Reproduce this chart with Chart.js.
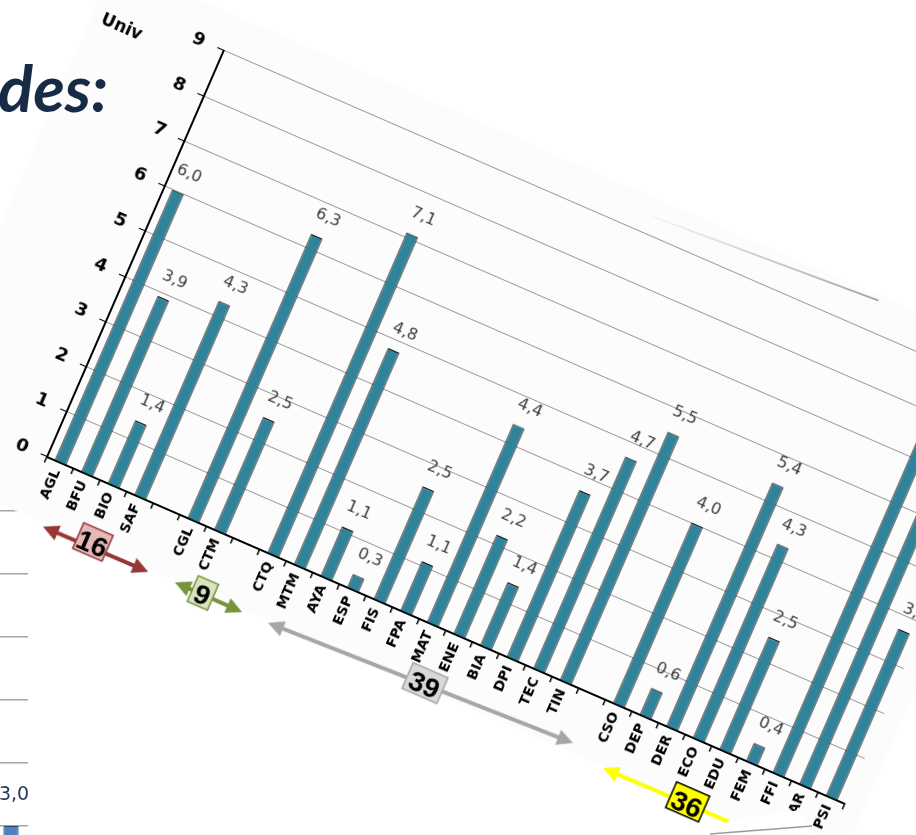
<!DOCTYPE html>
<html>
<head>
<meta charset="utf-8">
<script src="https://cdn.jsdelivr.net/npm/chart.js@4.4.1/dist/chart.umd.min.js"></script>
<style>
  html, body { margin: 0; padding: 0; background: #fff; overflow: hidden; }
  body { width: 916px; height: 835px; position: relative; }
  canvas { position: absolute; left: 0; top: 0; }
  #overlay { position: absolute; left: 0; top: 0; }
</style>
</head>
<body>
<canvas id="side" width="40" height="524"></canvas>
<canvas id="univ" width="1080" height="603"></canvas>
<svg id="overlay" width="916" height="835">
  <polygon points="730,820 800,810 815,835 710,835" fill="#fff"/>
  <line x1="710" y1="834" x2="812" y2="826" stroke="#9a9a9a" stroke-width="1.5"/>
  <text x="108" y="112" text-anchor="end" font-family="Lato" font-style="italic" font-weight="bold" font-size="65" fill="#172a46">des:</text>
</svg>
<script>
// categories and values of the main chart
const categories = ["AGL", "BFU", "BIO", "SAF", "", "CGL", "CTM", "", "CTQ", "MTM", "AYA", "ESP", "FIS", "FPA",
  "MAT", "ENE", "BIA", "DPI", "TEC", "TIN", "", "CSO", "DEP", "DER", "ECO", "EDU", "FEM", "FFI", "HAR", "PSI"];
const univValues = [6.0, 3.9, 1.4, 4.3, null, 6.3, 2.5, null, 7.1, 4.8, 1.1, 0.3, 2.5, 1.1,
  4.4, 2.2, 1.4, 3.7, 4.7, 5.5, null, 4.0, 0.6, 5.4, 4.3, 2.5, 0.4, 8.2, 6.9, 3.7];
const yTicks = [0, 1, 2, 3, 4, 5, 6, 7, 8, 9];

// groups marked under the axis and the count shown in each box
const groupCounts = [16, 9, 39, 36];

// chart behind, only its edge shows
const sideLabels = [""];
const sideValues = [3.0];

const fmt = v => v.toFixed(1).replace(".", ",");

// look of the group arrows (positions in category units / px below the axis)
const groupStyle = [
  { from: 0.33, to: 4.28, n1: 65.5, n2: 65, line: "#953735", fill: "#e6b9b8", edge: "#953735", box: 2.12, boxN: 59.6, w: 32 },
  { from: 5.27, to: 7.8, n1: 64, n2: 64.4, line: "#77933c", fill: "#d7e4bd", edge: "#77933c", box: 6.3, boxN: 62.5, w: 22 },
  { from: 8.77, to: 20.07, n1: 64, n2: 52.6, line: "#a6a6a6", fill: "#d9d9d9", edge: "#a6a6a6", box: 14.56, boxN: 56.6, w: 38 },
  { from: 21.36, to: 29.8, n1: 63.5, n2: 62, line: "#ffff00", fill: "#ffff00", edge: "#000", box: 24.5, boxN: 60.8, w: 36 }
];

function arrowHead(ctx, x, y, ang) {
  ctx.save();
  ctx.translate(x, y);
  ctx.rotate(ang);
  ctx.beginPath();
  ctx.moveTo(0, 0);
  ctx.lineTo(-16, -8);
  ctx.lineTo(-16, 8);
  ctx.closePath();
  ctx.fill();
  ctx.restore();
}

const frame = {
  id: "frame",
  beforeDraw(chart) {
    const { ctx, chartArea: a } = chart;
    ctx.save();
    ctx.fillStyle = "#fcfcfc";
    ctx.fillRect(a.left - 135, a.bottom - 480, 135 + 889, 480 + 62);
    // faint line near the top
    const g = ctx.createLinearGradient(a.left + 441, 0, a.left + 700, 0);
    g.addColorStop(0, "rgba(140,140,140,0)");
    g.addColorStop(1, "rgba(140,140,140,1)");
    ctx.strokeStyle = g;
    ctx.lineWidth = 1.5;
    ctx.beginPath();
    ctx.moveTo(a.left + 441, a.bottom - 461);
    ctx.lineTo(a.left + 700, a.bottom - 475);
    ctx.stroke();
    ctx.fillStyle = "#000";
    ctx.font = "bold 17px 'DejaVu Sans'";
    ctx.textAlign = "center";
    ctx.textBaseline = "middle";
    ctx.fillText("Univ", a.left - 103, a.bottom - 423);
    ctx.restore();
  },
  afterDatasetsDraw(chart) {
    const ctx = chart.ctx;
    const meta = chart.getDatasetMeta(0);
    ctx.save();
    ctx.font = "16px 'DejaVu Sans'";
    ctx.fillStyle = "#3c3c3c";
    ctx.textAlign = "center";
    ctx.textBaseline = "middle";
    meta.data.forEach((bar, i) => {
      const v = univValues[i];
      if (v == null) return;
      ctx.fillText(fmt(v), bar.x + 3, bar.y - 21);
    });
    ctx.restore();
  },
  afterDraw(chart) {
    const { ctx, chartArea: a } = chart;
    const xs = chart.scales.x;
    groupCounts.forEach((count, i) => {
      const s = groupStyle[i];
      const x1 = xs.getPixelForValue(s.from), x2 = xs.getPixelForValue(s.to);
      const y1 = a.bottom + s.n1, y2 = a.bottom + s.n2;
      const ang = Math.atan2(y2 - y1, x2 - x1);
      ctx.save();
      ctx.strokeStyle = s.line;
      ctx.fillStyle = s.line;
      ctx.lineWidth = 4;
      ctx.beginPath();
      ctx.moveTo(x1 + 12 * Math.cos(ang), y1 + 12 * Math.sin(ang));
      ctx.lineTo(x2 - 12 * Math.cos(ang), y2 - 12 * Math.sin(ang));
      ctx.stroke();
      arrowHead(ctx, x1, y1, ang + Math.PI);
      arrowHead(ctx, x2, y2, ang);
      const bx = xs.getPixelForValue(s.box), by = a.bottom + s.boxN;
      ctx.fillStyle = s.fill;
      ctx.strokeStyle = s.edge;
      ctx.lineWidth = 1.5;
      ctx.fillRect(bx - s.w / 2, by - 14, s.w, 28);
      ctx.strokeRect(bx - s.w / 2, by - 14, s.w, 28);
      ctx.fillStyle = "#000";
      ctx.font = "bold 28px 'Liberation Sans'";
      ctx.textAlign = "center";
      ctx.textBaseline = "middle";
      ctx.fillText(String(count), bx, by + 4);
      ctx.restore();
    });
  }
};

const mainChart = new Chart(document.getElementById("univ"), {
  type: "bar",
  data: {
    labels: categories,
    datasets: [{
      data: univValues,
      backgroundColor: "#2f849b",
      borderColor: "#111",
      borderWidth: 1.2,
      barPercentage: 0.43,
      categoryPercentage: 1
    }]
  },
  options: {
    responsive: false,
    animation: false,
    layout: { padding: { left: 105, top: 50, right: 60, bottom: 0 } },
    plugins: { legend: { display: false }, tooltip: { enabled: false } },
    scales: {
      x: {
        offset: true,
        grid: { offset: true, drawOnChartArea: false, color: "#000", tickLength: 6, lineWidth: 1.5 },
        border: { color: "#000", width: 2 },
        ticks: {
          autoSkip: false, maxRotation: 90, minRotation: 90, padding: 2, color: "#000",
          font: { family: "DejaVu Sans", weight: "bold", size: 14 }
        },
        afterFit(s) { s.height = 110; }
      },
      y: {
        min: yTicks[0],
        max: yTicks[yTicks.length - 1],
        afterBuildTicks(s) { s.ticks = yTicks.map(v => ({ value: v })); },
        grid: { color: "#9c9c9c", tickColor: "#000", tickLength: 7, lineWidth: 1.1 },
        border: { color: "#000", width: 2 },
        ticks: { padding: 14, color: "#000", font: { family: "DejaVu Sans", weight: "bold", size: 18 } },
        afterFit(s) { s.width = 45; }
      }
    }
  },
  plugins: [frame]
});

const sideLabelsPlugin = {
  id: "sideLabels",
  afterDatasetsDraw(chart) {
    const ctx = chart.ctx;
    ctx.save();
    ctx.font = "19px 'DejaVu Sans'";
    ctx.fillStyle = "#243a5e";
    ctx.textAlign = "center";
    ctx.textBaseline = "middle";
    chart.getDatasetMeta(0).data.forEach((bar, i) => {
      ctx.fillText(fmt(sideValues[i]), bar.x + 3, bar.y - 31);
    });
    ctx.restore();
  }
};

const sideChart = new Chart(document.getElementById("side"), {
  type: "bar",
  data: {
    labels: sideLabels,
    datasets: [{
      data: sideValues,
      backgroundColor: "#4f81bd",
      borderColor: "#2c4a70",
      borderWidth: 1,
      barPercentage: 0.45,
      categoryPercentage: 1
    }]
  },
  options: {
    responsive: false,
    animation: false,
    layout: { padding: { left: 0, right: 6, top: 10, bottom: 10 } },
    plugins: { legend: { display: false }, tooltip: { enabled: false } },
    scales: {
      x: { display: false },
      y: {
        min: 0, max: 8,
        ticks: { display: false, stepSize: 1 },
        grid: { color: "#a6a6a6", drawTicks: false, lineWidth: 1.5 },
        border: { display: false }
      }
    }
  },
  plugins: [sideLabelsPlugin]
});

// put each canvas in place on the page
(function () {
  const a = mainChart.chartArea;
  const c = mainChart.canvas;
  c.style.transformOrigin = a.left + "px " + a.bottom + "px";
  c.style.transform = "translate(" + (47 - a.left) + "px," + (457 - a.bottom) + "px) rotate(23.5deg)";

  const sa = sideChart.chartArea;
  const sy = sideChart.scales.y.getPixelForValue(3);
  sideChart.canvas.style.transform = "translate(" + (28 - sa.right) + "px," + (826 - sy) + "px)";
})();
</script>
</body>
</html>
